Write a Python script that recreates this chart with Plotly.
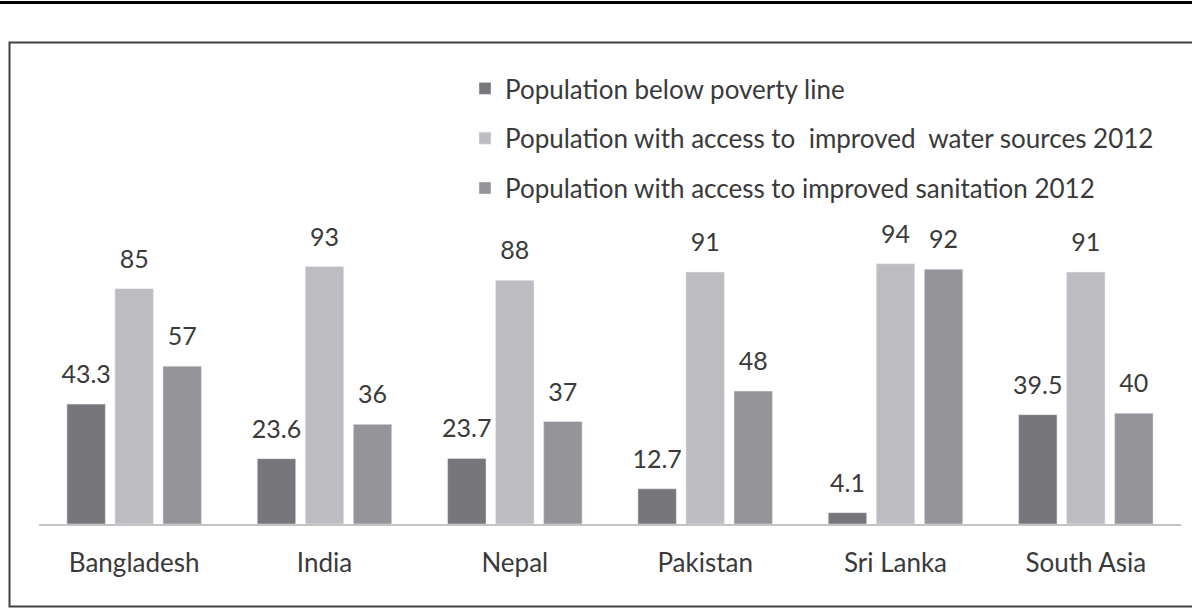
import plotly.graph_objects as go

categories = ["Bangladesh", "India", "Nepal", "Pakistan", "Sri Lanka", "South Asia"]
series_names = [
    "Population below poverty line",
    "Population with access to  improved  water sources 2012",
    "Population with access to improved sanitation 2012",
]
poverty = [43.3, 23.6, 23.7, 12.7, 4.1, 39.5]
water = [85, 93, 88, 91, 94, 91]
sanitation = [57, 36, 37, 48, 92, 40]
colors = ["#77777b", "#bdbdc1", "#959599"]

FONT = "Lato"
TXT = "#3a3a3a"

fig = go.Figure()
series = [poverty, water, sanitation]
for i, (name, vals, col) in enumerate(zip(series_names, series, colors)):
    fig.add_trace(go.Bar(
        x=categories, y=vals, name=name, marker_color=col,
        offsetgroup=str(i), legendgroup=str(i),
    ))
for i, vals in enumerate(series):
    fig.add_trace(go.Scatter(
        x=categories, y=vals, mode="markers+text", text=[f"{v:g}" for v in vals],
        textposition="top center", orientation="v",
        textfont=dict(family=FONT, size=25, color=TXT),
        marker=dict(size=22, opacity=0), offsetgroup=str(i),
        showlegend=False, hoverinfo="skip", cliponaxis=False,
    ))

W, H = 1192, 608
L, R, T, B = 39, 11, 50, 84
pw, ph = W - L - R, H - T - B

def px(x):
    return (x - L) / pw

def py(y):
    return (H - B - y) / ph

fig.update_layout(
    width=W, height=H,
    margin=dict(l=L, r=R, t=T, b=B, autoexpand=False),
    paper_bgcolor="white", plot_bgcolor="white",
    barmode="group", bargap=0.243, bargroupgap=0.2,
    scattermode="group", scattergap=0.243,
    font=dict(family=FONT, color=TXT),
    showlegend=True,
    legend=dict(
        xref="container", yref="container",
        x=465 / W, y=1 - 65 / H, xanchor="left", yanchor="top",
        font=dict(family=FONT, size=26, color=TXT),
        tracegroupgap=13, traceorder="grouped",
        bgcolor="rgba(0,0,0,0)",
    ),
    xaxis=dict(
        showline=True, linecolor="#c4c4c4", linewidth=2,
        ticks="", showgrid=False, zeroline=False,
        tickfont=dict(family=FONT, size=26, color=TXT),
        ticklabelstandoff=15, tickangle=0, automargin=False,
    ),
    yaxis=dict(range=[0, 171.2], visible=False, showgrid=False, zeroline=False,
               automargin=False),
    shapes=[
        dict(type="line", xref="paper", yref="paper",
             x0=px(-5), x1=px(W + 5), y0=py(2.5), y1=py(2.5),
             line=dict(color="black", width=3)),
        dict(type="rect", xref="paper", yref="paper",
             x0=px(9.5), x1=px(W + 5), y0=py(606.5), y1=py(42.5),
             line=dict(color="#404040", width=2)),
    ],
)

fig.write_html("out.html")
